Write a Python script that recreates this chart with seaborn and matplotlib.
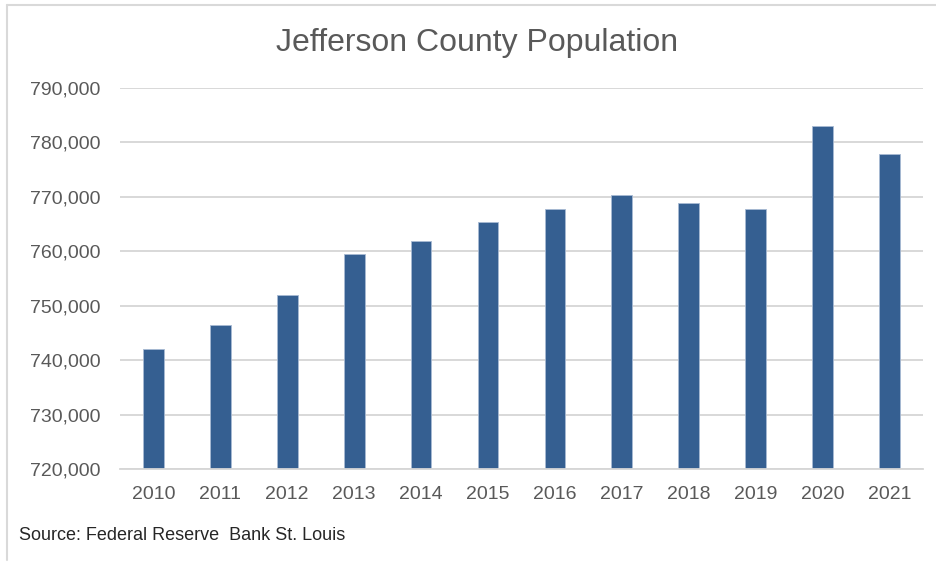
import matplotlib
matplotlib.use("Agg")
import matplotlib.pyplot as plt
from matplotlib.lines import Line2D
from matplotlib.ticker import FuncFormatter
import seaborn as sns
import pandas as pd

# Annual population estimates
years = ["2010", "2011", "2012", "2013", "2014", "2015",
         "2016", "2017", "2018", "2019", "2020", "2021"]
population = [742100, 746400, 751900, 759500, 761900, 765300,
              767800, 770400, 768800, 767800, 782900, 777900]
y_ticks = [720000, 730000, 740000, 750000, 760000, 770000, 780000, 790000]

title_text = "Jefferson County Population"
source_text = "Source: Federal Reserve  Bank St. Louis"

df = pd.DataFrame({"year": years, "population": population})

sns.set_theme(style="white")
plt.rcParams["font.family"] = ["Liberation Sans", "DejaVu Sans"]

fig = plt.figure(figsize=(9.37, 5.62), dpi=100)
ax = fig.add_axes([0.128, 0.165, 0.857, 0.679])

sns.barplot(data=df, x="year", y="population", color="#355F91",
            width=0.31, saturation=1, edgecolor="#A8BAD3", linewidth=0.6,
            ax=ax)

ax.set_ylim(y_ticks[0], y_ticks[-1])
ax.set_xlim(-0.5, len(years) - 0.5)
ax.set_yticks(y_ticks)
ax.yaxis.set_major_formatter(FuncFormatter(lambda v, _: f"{int(v):,}"))
ax.grid(axis="y", color="#D6D6D6", linewidth=1.3)
ax.set_axisbelow(True)
for side in ["top", "right", "left"]:
    ax.spines[side].set_visible(False)
ax.spines["bottom"].set_color("#D6D6D6")
ax.spines["bottom"].set_linewidth(1.3)
ax.tick_params(axis="both", length=0, labelsize=14, labelcolor="#595959")
ax.tick_params(axis="y", pad=14)
ax.tick_params(axis="x", pad=12)
ax.set_xlabel("")
ax.set_ylabel("")

fig.text(0.5096, 0.924, title_text, ha="center", va="center",
         fontsize=23, color="#595959")
fig.text(0.02, 0.048, source_text, ha="left", va="center",
         fontsize=13, color="#262626")

# Chart frame along the top and left edges
fig.add_artist(Line2D([7.5 / 937, 1.0], [1 - 5 / 562, 1 - 5 / 562],
                      transform=fig.transFigure, color="#D9D9D9", linewidth=1.5))
fig.add_artist(Line2D([7.5 / 937, 7.5 / 937], [1 - 5 / 562, 1 - 560 / 562],
                      transform=fig.transFigure, color="#D9D9D9", linewidth=1.5))

fig.savefig("out.png", dpi=100)
